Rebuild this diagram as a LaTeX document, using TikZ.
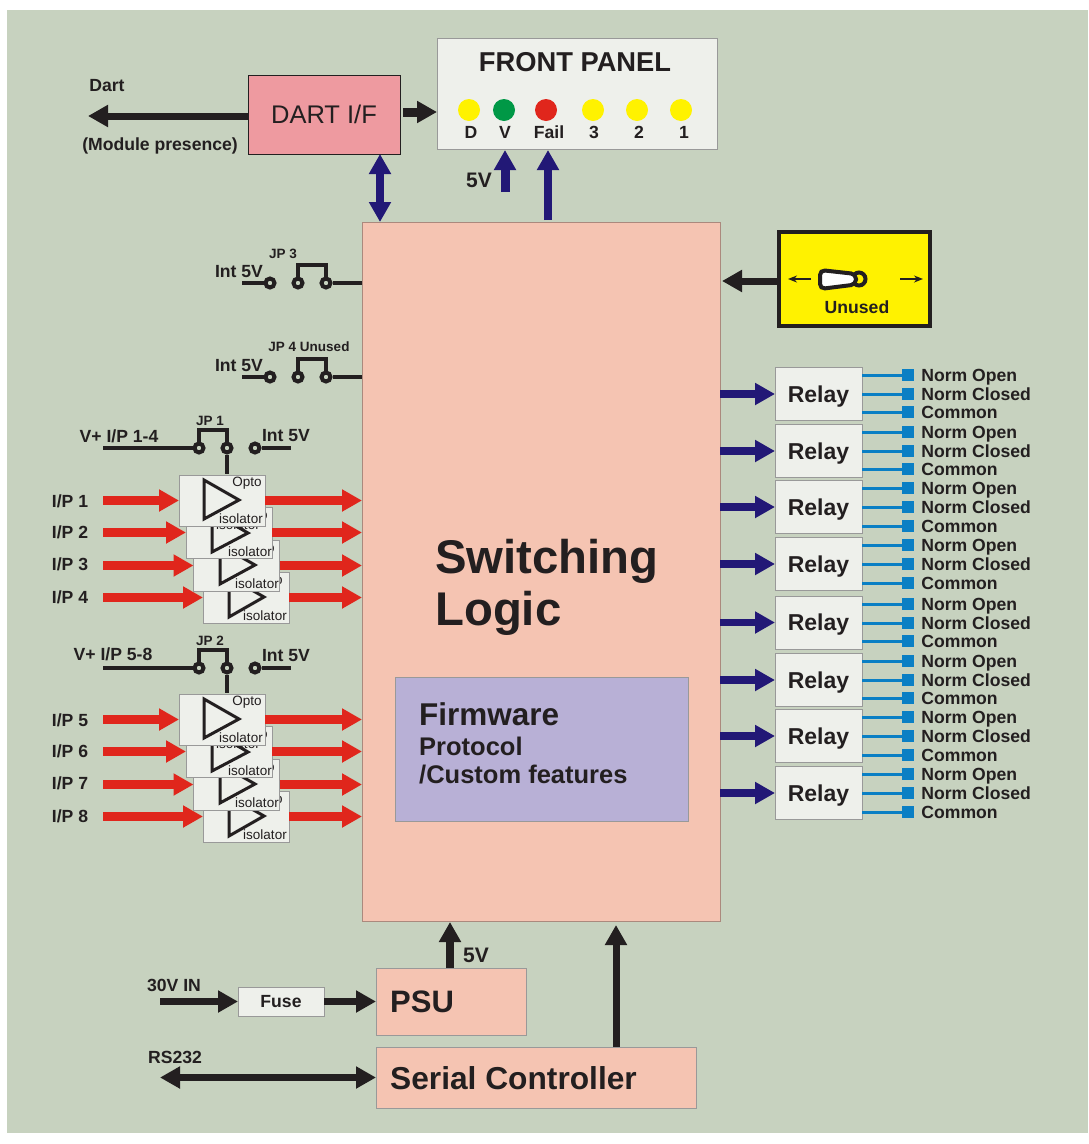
\documentclass[tikz,border=0pt]{standalone}
\usepackage{fontspec}
\setmainfont{Liberation Sans}
\usepackage{xcolor}
\usetikzlibrary{arrows.meta}
\pgfdeclarelayer{nodelayer}
\pgfdeclarelayer{edgelayer}
\pgfsetlayers{nodelayer,edgelayer,main}
\definecolor{sage}{HTML}{C7D2BF}
\definecolor{salmon}{HTML}{F5C4B2}
\definecolor{dartpink}{HTML}{EE9AA0}
\definecolor{paper}{HTML}{EEF0EB}
\definecolor{lilac}{HTML}{B8B0D6}
\definecolor{ink}{HTML}{231F20}
\definecolor{navy}{HTML}{221876}
\definecolor{signal}{HTML}{E0261C}
\definecolor{wire}{HTML}{0A7FC4}
\definecolor{ledgreen}{HTML}{009846}
\definecolor{ledyellow}{HTML}{FFF200}
\tikzset{
    none/.style = {inner sep=0pt},
    box/.style = {draw=black!40, line width=0.8pt, inner sep=0pt, outer sep=0pt},
    opto/.style = {box, fill=paper, minimum width=86pt, minimum height=51pt},
    relay/.style = {box, fill=paper, minimum width=87pt, minimum height=53pt, text=ink, text depth=0pt, font=\fontsize{23}{23}\selectfont\bfseries},
    term/.style = {fill=wire, inner sep=0pt, minimum size=12pt},
    led/.style = {circle, inner sep=0pt, minimum size=22pt},
    pin/.style = {circle, draw=ink, fill=sage, line width=4pt, inner sep=0pt, minimum size=9pt},
    txt/.style = {inner sep=0pt, text=ink, font=\fontsize{17.6}{17.6}\selectfont\bfseries},
    termtxt/.style = {txt, xshift=7pt, text height=12.5pt, text depth=0pt},
    tiny/.style = {inner sep=0pt, text=ink, font=\fontsize{13.5}{13.5}\selectfont\bfseries},
    iso/.style = {inner sep=0pt, text=ink, font=\fontsize{13.5}{13.5}\selectfont},
    amp/.style = {draw=ink, line width=3pt, line join=miter},
    stem/.style = {draw=ink, line width=4pt},
    blue/.style = {draw=wire, line width=3pt},
    redarrow/.style = {draw=signal, line width=8.5pt, -{Triangle[length=20pt,width=21pt]}},
    navyarrow/.style = {draw=navy, line width=7.5pt, -{Triangle[length=20pt,width=21pt]}},
    blackarrow/.style = {draw=ink, line width=7pt, -{Triangle[length=20pt,width=21pt]}},
    tick/.style = {draw=ink, line width=1.5pt, -{Stealth[length=9pt,width=7pt]}}
}
\begin{document}
\begin{tikzpicture}[x=1pt, y=-1pt]
    \useasboundingbox (0, 0) rectangle (1088, 1144);
    \begin{pgfonlayer}{nodelayer}
        \node [fill=sage, inner sep=0pt, minimum width=1081pt, minimum height=1123pt] (0) at (547.5, 571.5) {};
        % top row
        \node [box, draw=ink, fill=dartpink, minimum width=152pt, minimum height=79pt, text=ink, font=\fontsize{25.5}{25.5}\selectfont] (1) at (324, 114.5) {DART I/F};
        \node [box, fill=paper, minimum width=280pt, minimum height=111pt] (2) at (577, 93.5) {};
        \node [none, text=ink, font=\fontsize{27.3}{27.3}\selectfont\bfseries] (3) at (575, 62) {FRONT PANEL};
        \node [led, fill=ledyellow] (4) at (469, 110) {};
        \node [led, fill=ledgreen] (5) at (504, 110) {};
        \node [led, fill=signal] (6) at (546, 110) {};
        \node [led, fill=ledyellow] (7) at (593, 110) {};
        \node [led, fill=ledyellow] (8) at (637, 110) {};
        \node [led, fill=ledyellow] (9) at (681, 110) {};
        \node [txt] (10) at (471, 132) {D};
        \node [txt] (11) at (505, 132) {V};
        \node [txt] (12) at (549, 132) {Fail};
        \node [txt] (13) at (594, 132) {3};
        \node [txt] (14) at (639, 132) {2};
        \node [txt] (15) at (684, 132) {1};
        \node [txt] (16) at (107, 86) {Dart};
        \node [txt] (17) at (160, 146) {(Module presence)};
        \node [txt, font=\fontsize{21}{21}\selectfont\bfseries] (18) at (479, 180) {5V};
        \node [style=none] (19) at (88, 116) {};
        \node [style=none] (20) at (248, 116) {};
        \node [style=none] (21) at (403, 112) {};
        \node [style=none] (22) at (437, 112) {};
        \node [style=none] (23) at (380, 154) {};
        \node [style=none] (24) at (380, 222) {};
        \node [style=none] (25) at (505, 192) {};
        \node [style=none] (26) at (505, 150) {};
        \node [style=none] (27) at (548, 220) {};
        \node [style=none] (28) at (548, 150) {};
        % logic block
        \node [box, draw=black!30!salmon, fill=salmon, minimum width=358pt, minimum height=699pt] (30) at (541, 571.5) {};
        \node [none, anchor=west, text=ink, font=\fontsize{47.3}{47.3}\selectfont\bfseries] (31) at (435, 561) {Switching};
        \node [none, anchor=west, text=ink, font=\fontsize{47.3}{47.3}\selectfont\bfseries] (32) at (435, 613) {Logic};
        \node [box, fill=lilac, minimum width=293pt, minimum height=144pt] (33) at (541.5, 749) {};
        \node [none, anchor=west, text=ink, font=\fontsize{31.5}{31.5}\selectfont\bfseries] (34) at (419, 714) {Firmware};
        \node [none, anchor=west, text=ink, font=\fontsize{25.5}{25.5}\selectfont\bfseries] (35) at (419, 746) {Protocol};
        \node [none, anchor=west, text=ink, font=\fontsize{25.5}{25.5}\selectfont\bfseries] (36) at (419, 775) {/Custom features};
        % switch
        \node [box, draw=ink, line width=4pt, fill=ledyellow, minimum width=151pt, minimum height=94pt] (40) at (854.5, 279) {};
        \node [txt] (41) at (857, 307) {Unused};
        \draw [draw=ink, line width=4pt, fill=ledyellow] (859, 279) circle (6.5);
        \draw [draw=ink, line width=4pt, fill=white, rounded corners=5pt] (820, 270) -- (856, 274) -- (856, 284.5) -- (820, 289) -- cycle;
        \node [style=none] (42) at (777, 281) {};
        \node [style=none] (43) at (722, 281) {};
        \node [style=none] (44) at (811, 279) {};
        \node [style=none] (45) at (788, 279) {};
        \node [style=none] (46) at (900, 279) {};
        \node [style=none] (47) at (923, 279) {};
        % jumpers on the logic block
        \node [txt] (50) at (239, 272) {Int 5V};
        \node [tiny] (51) at (283, 254) {JP 3};
        \node [style=none] (52) at (242, 283) {};
        \node [pin] (53) at (270, 283) {};
        \node [pin] (54) at (298, 283) {};
        \node [pin] (55) at (326, 283) {};
        \node [style=none] (56) at (362, 283) {};
        \node [style=none] (57) at (298, 265) {};
        \node [style=none] (58) at (326, 265) {};
        \node [txt] (60) at (239, 366) {Int 5V};
        \node [tiny] (61) at (309, 347) {JP 4 Unused};
        \node [style=none] (62) at (242, 377) {};
        \node [pin] (63) at (270, 377) {};
        \node [pin] (64) at (298, 377) {};
        \node [pin] (65) at (326, 377) {};
        \node [style=none] (66) at (362, 377) {};
        \node [style=none] (67) at (298, 359) {};
        \node [style=none] (68) at (326, 359) {};
        % inputs 1-4
        \node [txt] (70) at (119, 436) {V+ I/P 1-4};
        \node [txt] (71) at (286, 436) {Int 5V};
        \node [tiny] (72) at (210, 421) {JP 1};
        \node [style=none] (73) at (103, 448) {};
        \node [pin] (74) at (199, 448) {};
        \node [pin] (75) at (227, 448) {};
        \node [pin] (76) at (255, 448) {};
        \node [style=none] (77) at (291, 448) {};
        \node [style=none] (78) at (199, 430) {};
        \node [style=none] (79) at (227, 430) {};
        \node [style=none] (80) at (227, 474) {};
        \node [opto] (81) at (246, 597.5) {};
        \draw [amp] (229, 577) -- (229, 617) -- (264, 597) -- cycle;
        \node [iso] (82) at (265, 616) {isolator};
        \node [iso] (83) at (268, 581) {Opto};
        \node [opto] (84) at (236.5, 565.5) {};
        \draw [amp] (220, 545) -- (220, 584) -- (255, 565) -- cycle;
        \node [iso] (85) at (257, 584) {isolator};
        \node [iso] (86) at (260, 549) {Opto};
        \node [opto] (87) at (229, 532.5) {};
        \draw [amp] (212, 512) -- (212, 552) -- (248, 533) -- cycle;
        \node [iso] (88) at (250, 552) {isolator};
        \node [iso] (89) at (253, 516) {Opto};
        \node [iso] (90) at (238, 525) {isolator};
        \node [opto] (91) at (222, 500.5) {};
        \draw [amp] (204, 480) -- (204, 519) -- (239, 500) -- cycle;
        \node [iso] (92) at (241, 519) {isolator};
        \node [iso] (93) at (247, 483) {Opto};
        \node [txt] (94) at (70, 501) {I/P 1};
        \node [txt] (95) at (70, 532) {I/P 2};
        \node [txt] (96) at (70, 564) {I/P 3};
        \node [txt] (97) at (70, 597) {I/P 4};
        \node [style=none] (100) at (103, 500.5) {};
        \node [style=none] (101) at (103, 532.5) {};
        \node [style=none] (102) at (103, 565.5) {};
        \node [style=none] (103) at (103, 597.5) {};
        \node [style=none] (104) at (362, 500.5) {};
        \node [style=none] (105) at (362, 532.5) {};
        \node [style=none] (106) at (362, 565.5) {};
        \node [style=none] (107) at (362, 597.5) {};
        % inputs 5-8
        \node [txt] (110) at (113, 654) {V+ I/P 5-8};
        \node [txt] (111) at (286, 656) {Int 5V};
        \node [tiny] (112) at (210, 641) {JP 2};
        \node [style=none] (113) at (103, 668) {};
        \node [pin] (114) at (199, 668) {};
        \node [pin] (115) at (227, 668) {};
        \node [pin] (116) at (255, 668) {};
        \node [style=none] (117) at (291, 668) {};
        \node [style=none] (118) at (199, 650) {};
        \node [style=none] (119) at (227, 650) {};
        \node [style=none] (120) at (227, 693) {};
        \node [opto] (121) at (246, 816.5) {};
        \draw [amp] (229, 796) -- (229, 836) -- (264, 816) -- cycle;
        \node [iso] (122) at (265, 835) {isolator};
        \node [iso] (123) at (268, 800) {Opto};
        \node [opto] (124) at (236.5, 784.5) {};
        \draw [amp] (220, 764) -- (220, 803) -- (255, 784) -- cycle;
        \node [iso] (125) at (257, 803) {isolator};
        \node [iso] (126) at (260, 768) {Opto};
        \node [opto] (127) at (229, 751.5) {};
        \draw [amp] (212, 731) -- (212, 771) -- (248, 752) -- cycle;
        \node [iso] (128) at (250, 771) {isolator};
        \node [iso] (129) at (253, 735) {Opto};
        \node [iso] (130) at (238, 744) {isolator};
        \node [opto] (131) at (222, 719.5) {};
        \draw [amp] (204, 699) -- (204, 738) -- (239, 719) -- cycle;
        \node [iso] (132) at (241, 738) {isolator};
        \node [iso] (133) at (247, 702) {Opto};
        \node [txt] (134) at (70, 720) {I/P 5};
        \node [txt] (135) at (70, 751) {I/P 6};
        \node [txt] (136) at (70, 783) {I/P 7};
        \node [txt] (137) at (70, 816) {I/P 8};
        \node [style=none] (140) at (103, 719.5) {};
        \node [style=none] (141) at (103, 751.5) {};
        \node [style=none] (142) at (103, 784.5) {};
        \node [style=none] (143) at (103, 816.5) {};
        \node [style=none] (144) at (362, 719.5) {};
        \node [style=none] (145) at (362, 751.5) {};
        \node [style=none] (146) at (362, 784.5) {};
        \node [style=none] (147) at (362, 816.5) {};
        % relays
        \node [relay] (200) at (818.5, 394) {Relay};
        \node [term, label={[termtxt]right:Norm Open}] (201) at (908, 375) {};
        \node [term, label={[termtxt]right:Norm Closed}] (202) at (908, 394) {};
        \node [term, label={[termtxt]right:Common}] (203) at (908, 412) {};
        \node [relay] (210) at (818.5, 451) {Relay};
        \node [term, label={[termtxt]right:Norm Open}] (211) at (908, 432) {};
        \node [term, label={[termtxt]right:Norm Closed}] (212) at (908, 451) {};
        \node [term, label={[termtxt]right:Common}] (213) at (908, 469) {};
        \node [relay] (220) at (818.5, 507) {Relay};
        \node [term, label={[termtxt]right:Norm Open}] (221) at (908, 488) {};
        \node [term, label={[termtxt]right:Norm Closed}] (222) at (908, 507) {};
        \node [term, label={[termtxt]right:Common}] (223) at (908, 526) {};
        \node [relay] (230) at (818.5, 564) {Relay};
        \node [term, label={[termtxt]right:Norm Open}] (231) at (908, 545) {};
        \node [term, label={[termtxt]right:Norm Closed}] (232) at (908, 564) {};
        \node [term, label={[termtxt]right:Common}] (233) at (908, 583) {};
        \node [relay] (240) at (818.5, 622.5) {Relay};
        \node [term, label={[termtxt]right:Norm Open}] (241) at (908, 604) {};
        \node [term, label={[termtxt]right:Norm Closed}] (242) at (908, 623) {};
        \node [term, label={[termtxt]right:Common}] (243) at (908, 641) {};
        \node [relay] (250) at (818.5, 680) {Relay};
        \node [term, label={[termtxt]right:Norm Open}] (251) at (908, 661) {};
        \node [term, label={[termtxt]right:Norm Closed}] (252) at (908, 680) {};
        \node [term, label={[termtxt]right:Common}] (253) at (908, 698) {};
        \node [relay] (260) at (818.5, 736) {Relay};
        \node [term, label={[termtxt]right:Norm Open}] (261) at (908, 717) {};
        \node [term, label={[termtxt]right:Norm Closed}] (262) at (908, 736) {};
        \node [term, label={[termtxt]right:Common}] (263) at (908, 755) {};
        \node [relay] (270) at (818.5, 793) {Relay};
        \node [term, label={[termtxt]right:Norm Open}] (271) at (908, 774) {};
        \node [term, label={[termtxt]right:Norm Closed}] (272) at (908, 793) {};
        \node [term, label={[termtxt]right:Common}] (273) at (908, 812) {};
        % supply and serial
        \node [box, fill=salmon, minimum width=150pt, minimum height=67pt] (300) at (451, 1001.5) {};
        \node [none, anchor=west, text=ink, font=\fontsize{31}{31}\selectfont\bfseries] (301) at (390, 1002) {PSU};
        \node [box, fill=salmon, minimum width=320pt, minimum height=61pt] (302) at (536, 1077.5) {};
        \node [none, anchor=west, text=ink, font=\fontsize{31.7}{31.7}\selectfont\bfseries] (303) at (390, 1078) {Serial Controller};
        \node [box, fill=paper, minimum width=86pt, minimum height=29pt, txt] (304) at (281, 1001.5) {Fuse};
        \node [txt] (305) at (174, 985) {30V IN};
        \node [txt] (306) at (175, 1057) {RS232};
        \node [txt, font=\fontsize{21}{21}\selectfont\bfseries] (307) at (476, 955) {5V};
        \node [style=none] (310) at (160, 1001.5) {};
        \node [style=none] (311) at (450, 968) {};
        \node [style=none] (312) at (450, 922) {};
        \node [style=none] (313) at (616, 1047) {};
        \node [style=none] (314) at (616, 925) {};
        \node [style=none] (315) at (160, 1077.5) {};
    \end{pgfonlayer}
    \begin{pgfonlayer}{edgelayer}
        \draw [style=blackarrow] (20.center) to (19.center);
        \draw [style=blackarrow, line width=9pt] (21.center) to (22.center);
        \draw [style=navyarrow, {Triangle[length=20pt,width=21pt]}-{Triangle[length=20pt,width=21pt]}] (23.center) to (24.center);
        \draw [style=navyarrow, line width=9pt] (25.center) to (26.center);
        \draw [style=navyarrow] (27.center) to (28.center);
        \draw [style=blackarrow] (42.center) to (43.center);
        \draw [style=tick] (44.center) to (45.center);
        \draw [style=tick] (46.center) to (47.center);
        \draw [style=stem] (52.center) to (53);
        \draw [style=stem] (55) to (56.center);
        \draw [style=stem] (54) to (57.center) to (58.center) to (55);
        \draw [style=stem] (62.center) to (63);
        \draw [style=stem] (65) to (66.center);
        \draw [style=stem] (64) to (67.center) to (68.center) to (65);
        \draw [style=stem] (73.center) to (74);
        \draw [style=stem] (76) to (77.center);
        \draw [style=stem] (74) to (78.center) to (79.center) to (75);
        \draw [style=stem] (75) to (80.center);
        \draw [style=redarrow] (100.center) to (91.west);
        \draw [style=redarrow] (101.center) to (87.west);
        \draw [style=redarrow] (102.center) to (84.west);
        \draw [style=redarrow] (103.center) to (81.west);
        \draw [style=redarrow] (91.east) to (104.center);
        \draw [style=redarrow] (87.east) to (105.center);
        \draw [style=redarrow] (84.east) to (106.center);
        \draw [style=redarrow] (81.east) to (107.center);
        \draw [style=stem] (113.center) to (114);
        \draw [style=stem] (116) to (117.center);
        \draw [style=stem] (114) to (118.center) to (119.center) to (115);
        \draw [style=stem] (115) to (120.center);
        \draw [style=redarrow] (140.center) to (131.west);
        \draw [style=redarrow] (141.center) to (127.west);
        \draw [style=redarrow] (142.center) to (124.west);
        \draw [style=redarrow] (143.center) to (121.west);
        \draw [style=redarrow] (131.east) to (144.center);
        \draw [style=redarrow] (127.east) to (145.center);
        \draw [style=redarrow] (124.east) to (146.center);
        \draw [style=redarrow] (121.east) to (147.center);
        \draw [style=navyarrow] (200.west -| 30.east) to (200.west);
        \draw [style=blue] (200.east |- 201) to (201);
        \draw [style=blue] (200.east |- 202) to (202);
        \draw [style=blue] (200.east |- 203) to (203);
        \draw [style=navyarrow] (210.west -| 30.east) to (210.west);
        \draw [style=blue] (210.east |- 211) to (211);
        \draw [style=blue] (210.east |- 212) to (212);
        \draw [style=blue] (210.east |- 213) to (213);
        \draw [style=navyarrow] (220.west -| 30.east) to (220.west);
        \draw [style=blue] (220.east |- 221) to (221);
        \draw [style=blue] (220.east |- 222) to (222);
        \draw [style=blue] (220.east |- 223) to (223);
        \draw [style=navyarrow] (230.west -| 30.east) to (230.west);
        \draw [style=blue] (230.east |- 231) to (231);
        \draw [style=blue] (230.east |- 232) to (232);
        \draw [style=blue] (230.east |- 233) to (233);
        \draw [style=navyarrow] (240.west -| 30.east) to (240.west);
        \draw [style=blue] (240.east |- 241) to (241);
        \draw [style=blue] (240.east |- 242) to (242);
        \draw [style=blue] (240.east |- 243) to (243);
        \draw [style=navyarrow] (250.west -| 30.east) to (250.west);
        \draw [style=blue] (250.east |- 251) to (251);
        \draw [style=blue] (250.east |- 252) to (252);
        \draw [style=blue] (250.east |- 253) to (253);
        \draw [style=navyarrow] (260.west -| 30.east) to (260.west);
        \draw [style=blue] (260.east |- 261) to (261);
        \draw [style=blue] (260.east |- 262) to (262);
        \draw [style=blue] (260.east |- 263) to (263);
        \draw [style=navyarrow] (270.west -| 30.east) to (270.west);
        \draw [style=blue] (270.east |- 271) to (271);
        \draw [style=blue] (270.east |- 272) to (272);
        \draw [style=blue] (270.east |- 273) to (273);
        \draw [style=blackarrow] (310.center) to (304.west);
        \draw [style=blackarrow] (304.east) to (300.west);
        \draw [style=blackarrow, line width=8pt] (311.center) to (312.center);
        \draw [style=blackarrow] (313.center) to (314.center);
        \draw [style=blackarrow, {Triangle[length=20pt,width=21pt]}-{Triangle[length=20pt,width=21pt]}] (315.center) to (302.west);
    \end{pgfonlayer}
\end{tikzpicture}
\end{document}
